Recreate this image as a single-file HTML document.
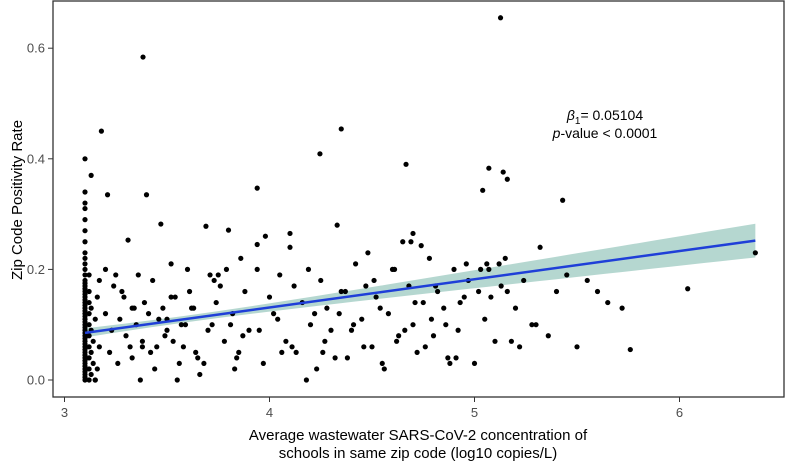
<!DOCTYPE html>
<html><head><meta charset="utf-8"><style>
html,body{margin:0;padding:0;background:#fff;}
svg{display:block;font-family:"Liberation Sans",Arial,sans-serif;}
</style></head><body>
<svg id="chart" width="791" height="464" viewBox="0 0 791 464" xmlns="http://www.w3.org/2000/svg">
<rect x="53" y="1" width="731" height="396" fill="#fff" stroke="#333" stroke-width="1.3"/>
<g id="band"></g>
<g id="pts"></g>
<g id="fit"></g>
<g id="axes"></g>
<text x="605" y="120" text-anchor="middle" font-size="14" fill="#000"><tspan font-style="italic">β</tspan><tspan font-size="10" dy="4">1</tspan><tspan dy="-4">= 0.05104</tspan></text>
<text x="605" y="138" text-anchor="middle" font-size="14" fill="#000"><tspan font-style="italic">p</tspan>-value &lt; 0.0001</text>
<text transform="translate(22,200) rotate(-90)" text-anchor="middle" font-size="15" fill="#000">Zip Code Positivity Rate</text>
<text x="418" y="440" text-anchor="middle" font-size="15" fill="#000">Average wastewater SARS-CoV-2 concentration of</text>
<text x="418" y="458" text-anchor="middle" font-size="15" fill="#000">schools in same zip code (log10 copies/L)</text>
</svg>
<script>
const xTicks=[3,4,5,6];
const yTicks=[0.0,0.2,0.4,0.6];
const yTickLabels=["0.0","0.2","0.4","0.6"];
const slope=0.05104;
const intercept=-0.073;
const fitRange=[3.1,6.37];
const ptsX=[
3.1,3.1,3.1,3.1,3.1,3.1,3.1,3.1,3.1,3.1,3.1,3.1,3.1,3.1,3.1,3.1,3.1,3.1,3.1,3.1,3.1,3.1,3.1,3.1,3.1,3.1,3.1,3.1,3.1,3.1,3.1,3.1,3.1,3.1,3.1,3.1,3.1,3.1,3.1,3.1,3.1,3.1,3.1,3.1,3.1,3.1,3.1,3.1,3.1,
3.12,3.12,3.12,3.12,3.12,3.12,3.12,3.12,3.12,3.12,3.13,3.13,3.13,3.13,3.14,3.14,3.15,3.15,3.16,3.16,3.17,3.17,3.13,3.15,
3.18,3.21,3.40,3.2,3.22,3.25,3.28,3.31,3.33,3.35,3.38,3.2,3.23,3.26,3.29,3.32,3.34,3.37,3.24,3.27,3.3,3.36,3.39,3.42,3.44,3.46,3.47,3.5,3.52,3.55,3.58,3.6,3.62,3.65,3.68,3.69,3.72,3.75,3.78,3.8,3.82,3.85,3.88,3.9,3.43,3.48,3.53,3.57,3.61,3.66,3.71,3.74,3.79,3.84,3.87,3.45,3.5,3.56,3.63,3.7,3.76,3.83,3.41,3.49,3.54,3.59,3.64,3.73,3.81,3.86,3.38,3.33,3.52,
3.94,3.98,4.02,4.05,4.08,4.1,4.13,4.16,4.2,4.23,4.25,4.28,4.3,4.33,4.35,4.38,4.42,4.45,4.48,4.5,4.52,4.55,4.58,4.6,4.62,4.65,4.68,4.7,4.72,4.75,4.78,4.8,4.82,4.85,4.88,4.9,4.92,4.95,4.97,5.0,
3.95,4.0,4.06,4.12,4.18,4.22,4.27,4.32,4.37,4.41,4.46,4.51,4.56,4.61,4.66,4.71,4.76,4.81,4.86,4.91,4.96,3.97,4.04,4.11,4.19,4.26,4.34,4.4,4.47,4.54,4.63,4.69,4.79,4.87,4.93,
5.03,5.06,5.1,5.13,5.16,5.2,5.24,5.28,5.32,5.36,5.4,5.45,5.5,5.55,5.6,5.65,5.72,5.76,6.04,6.37,5.05,5.08,5.15,5.18,5.22,5.3,5.12,5.07,5.02,
5.127,3.383,4.35,4.246,4.666,3.94,5.07,5.14,5.16,5.04,5.43,4.7,4.74,3.94,4.1
];
const ptsY=[
0,0.005,0.01,0.015,0.02,0.025,0.03,0.035,0.04,0.045,0.05,0.055,0.06,0.065,0.07,0.075,0.08,0.085,0.09,0.095,0.1,0.105,0.11,0.115,0.12,0.125,0.13,0.135,0.14,0.145,0.15,0.155,0.16,0.165,0.17,0.175,0.18,0.19,0.2,0.21,0.22,0.23,0.25,0.27,0.29,0.31,0.32,0.34,0.4,
0,0.02,0.04,0.06,0.08,0.1,0.12,0.14,0.16,0.19,0.01,0.05,0.09,0.13,0.03,0.07,0.0,0.11,0.02,0.15,0.06,0.18,0.37,0.0,
0.45,0.335,0.335,0.12,0.05,0.19,0.16,0.253,0.04,0.1,0.07,0.2,0.09,0.03,0.15,0.06,0.13,0.0,0.17,0.11,0.08,0.19,0.14,0.05,0.02,0.11,0.282,0.09,0.15,0.0,0.06,0.2,0.13,0.04,0.03,0.278,0.1,0.19,0.07,0.271,0.12,0.05,0.16,0.09,0.18,0.13,0.07,0.1,0.16,0.01,0.19,0.14,0.2,0.04,0.08,0.06,0.11,0.03,0.13,0.09,0.17,0.02,0.12,0.08,0.15,0.1,0.05,0.18,0.1,0.22,0.06,0.13,0.21,
0.2,0.26,0.12,0.19,0.07,0.24,0.05,0.14,0.1,0.02,0.18,0.13,0.09,0.28,0.16,0.04,0.21,0.11,0.23,0.06,0.15,0.03,0.12,0.2,0.07,0.25,0.17,0.1,0.05,0.14,0.22,0.08,0.16,0.13,0.03,0.2,0.09,0.15,0.18,0.03,
0.09,0.15,0.05,0.17,0.0,0.12,0.07,0.04,0.16,0.1,0.06,0.18,0.02,0.2,0.09,0.14,0.06,0.17,0.1,0.04,0.21,0.03,0.11,0.06,0.2,0.05,0.12,0.09,0.17,0.13,0.08,0.25,0.11,0.04,0.14,
0.2,0.21,0.07,0.17,0.16,0.13,0.18,0.1,0.24,0.08,0.16,0.19,0.06,0.18,0.16,0.14,0.13,0.055,0.165,0.23,0.11,0.15,0.22,0.07,0.06,0.1,0.21,0.2,0.16,
0.655,0.584,0.454,0.409,0.39,0.347,0.383,0.376,0.363,0.343,0.325,0.265,0.243,0.245,0.265
];
const NS="http://www.w3.org/2000/svg";
function sx(v){return 64.5+(v-3)*205;}
function sy(v){return 380-v*553;}
function se(x){return Math.sqrt(0.006*0.006+Math.pow(0.0108*(x-3.6),2));}
const axes=document.getElementById('axes');
xTicks.forEach((t,i)=>{
  const l=document.createElementNS(NS,'line');
  
  
  l.setAttribute('x1',sx(t));l.setAttribute('x2',sx(t));l.setAttribute('y1',397);l.setAttribute('y2',402);
  l.setAttribute('stroke','#333');axes.appendChild(l);
  const tx=document.createElementNS(NS,'text');
  
  
  tx.setAttribute('x',sx(t));tx.setAttribute('y',417);tx.setAttribute('text-anchor','middle');
  tx.setAttribute('font-size','13');tx.setAttribute('fill','#4d4d4d');tx.textContent=String(t);axes.appendChild(tx);
});
yTicks.forEach((t,i)=>{
  const l=document.createElementNS(NS,'line');
  
  
  l.setAttribute('x1',48);l.setAttribute('x2',53);l.setAttribute('y1',sy(t));l.setAttribute('y2',sy(t));
  l.setAttribute('stroke','#333');axes.appendChild(l);
  const tx=document.createElementNS(NS,'text');
  
  
  tx.setAttribute('x',45);tx.setAttribute('y',sy(t)+4.5);tx.setAttribute('text-anchor','end');
  tx.setAttribute('font-size','13');tx.setAttribute('fill','#4d4d4d');tx.textContent=yTickLabels[i];axes.appendChild(tx);
});
let up=[],lo=[];
for(let k=0;k<=40;k++){const x=fitRange[0]+(fitRange[1]-fitRange[0])*k/40;const y=intercept+slope*x;const s=se(x);up.push(sx(x)+','+sy(y+s));lo.unshift(sx(x)+','+sy(y-s));}
const band=document.createElementNS(NS,'polygon');


band.setAttribute('points',up.concat(lo).join(' '));band.setAttribute('fill','#a2cdc4');band.setAttribute('opacity','0.8');
document.getElementById('band').appendChild(band);
const pg=document.getElementById('pts');
const n=Math.min(ptsX.length,ptsY.length);
for(let i=0;i<n;i++){
  const c=document.createElementNS(NS,'circle');
  
  
  c.setAttribute('cx',sx(ptsX[i]));c.setAttribute('cy',sy(ptsY[i]));c.setAttribute('r',2.6);c.setAttribute('fill','#000');
  pg.appendChild(c);
}
const fl=document.createElementNS(NS,'line');


fl.setAttribute('x1',sx(fitRange[0]));fl.setAttribute('y1',sy(intercept+slope*fitRange[0]));
fl.setAttribute('x2',sx(fitRange[1]));fl.setAttribute('y2',sy(intercept+slope*fitRange[1]));
fl.setAttribute('stroke','#1f3fd8');fl.setAttribute('stroke-width','2.5');
document.getElementById('fit').appendChild(fl);
</script>
</body></html>
